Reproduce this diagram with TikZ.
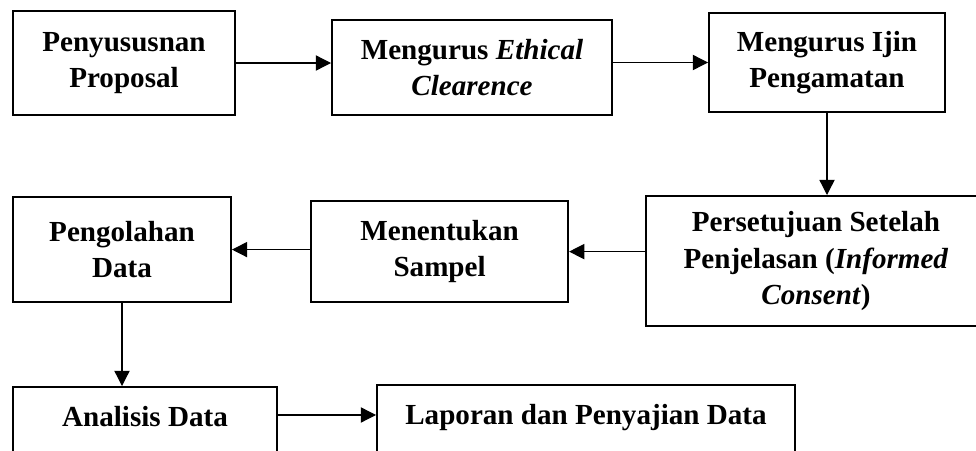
\documentclass[tikz,border=0pt]{standalone}
\usepackage{fontspec}
\setmainfont{Liberation Serif}
\usetikzlibrary{positioning, arrows.meta}
\tikzset{box/.style = {draw, line width=1.4pt, align=center, inner sep=0pt,
                       font=\fontsize{20.7}{26}\selectfont\bfseries},
         link/.style = {line width=0.9pt, -{Triangle[length=0.38cm,width=0.38cm]}}}

\begin{document}
\begin{tikzpicture}
            \useasboundingbox (0, 0) rectangle (24.4, -11.25);
            \clip (0, 0) rectangle (24.4, -11.25);

            \node [box, minimum width=5.55cm, minimum height=2.6cm]   (proposal) at ( 3.1,   -1.575) {Penyususnan\\Proposal};
            \node [box, minimum width=7.0cm,  minimum height=2.375cm] (ethical)  at (11.8,   -1.69)  {Mengurus \textit{Ethical}\\\textit{Clearence}};
            \node [box, minimum width=5.9cm,  minimum height=2.475cm] (ijin)     at (20.675, -1.5625) {Mengurus Ijin\\Pengamatan};

            % right edge runs past the border
            \node [box, minimum width=8.5cm,  minimum height=3.25cm]  (consent)  at (20.4,   -6.525) {Persetujuan Setelah\\Penjelasan (\textit{Informed}\\\textit{Consent})};
            \node [box, minimum width=6.425cm, minimum height=2.525cm] (sampel)  at (10.99,  -6.29)  {Menentukan\\Sampel};
            \node [box, minimum width=5.45cm, minimum height=2.625cm] (olah)     at ( 3.05,  -6.24)  {Pengolahan\\Data};

            % bottom row runs past the lower edge
            \node [box, anchor=north, minimum width=6.6cm,  text height=1cm, text depth=2cm] (analisis) at ( 3.625, -9.65) {Analisis Data};
            \node [box, anchor=north, minimum width=10.45cm, text height=1cm, text depth=2cm] (laporan)  at (14.65,  -9.6)  {Laporan dan Penyajian Data};

            \coordinate (a7) at ([yshift=0.3cm]analisis.base east);

            \draw [link] (proposal.east) -- (proposal.east -| ethical.west);
            \draw [link] (ijin.west -| ethical.east) -- (ijin.west);
            \draw [link] (ijin.south) -- (ijin.south |- consent.north);
            \draw [link] (sampel.east -| consent.west) -- (sampel.east);
            \draw [link] (olah.east -| sampel.west) -- (olah.east);
            \draw [link] (olah.south) -- (olah.south |- analisis.north);
            \draw [link] (a7) -- (a7 -| laporan.west);
        \end{tikzpicture}
\end{document}
